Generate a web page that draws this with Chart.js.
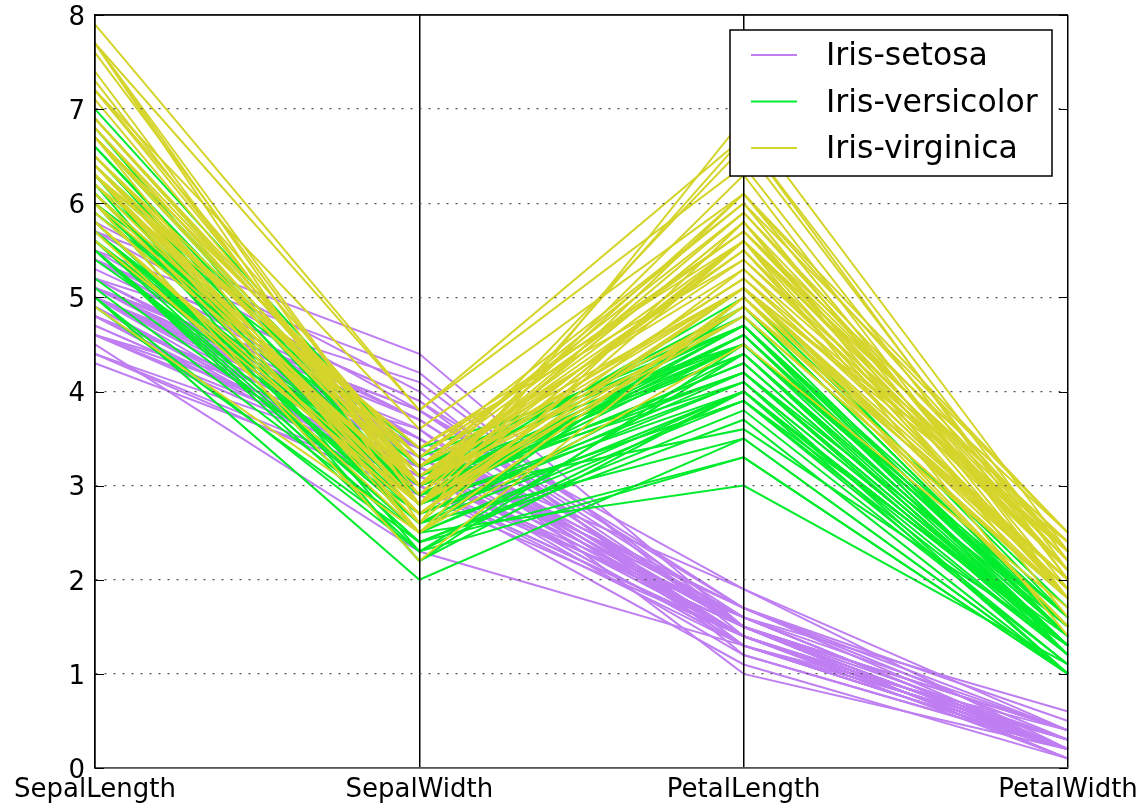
<!DOCTYPE html>
<html>
<head>
<meta charset="utf-8">
<title>Iris parallel coordinates</title>
<script src="https://cdn.jsdelivr.net/npm/chart.js@4.4.1/dist/chart.umd.min.js"></script>
<style>
  html, body { margin: 0; padding: 0; background: #fff; }
  canvas { display: block; }
</style>
</head>
<body>
<canvas id="iris" width="1142" height="803"></canvas>
<script>
// axes of the parallel plot
const features = ['SepalLength', 'SepalWidth', 'PetalLength', 'PetalWidth'];
const species = ['Iris-setosa', 'Iris-versicolor', 'Iris-virginica'];
const speciesColors = ['#bf7ef1', '#00ec2c', '#d4d42a'];
const yTicks = [0, 1, 2, 3, 4, 5, 6, 7, 8];

// one row per flower: SepalLength, SepalWidth, PetalLength, PetalWidth
const setosa = [
  [5.1,3.5,1.4,0.2],[4.9,3.0,1.4,0.2],[4.7,3.2,1.3,0.2],[4.6,3.1,1.5,0.2],[5.0,3.6,1.4,0.2],
  [5.4,3.9,1.7,0.4],[4.6,3.4,1.4,0.3],[5.0,3.4,1.5,0.2],[4.4,2.9,1.4,0.2],[4.9,3.1,1.5,0.1],
  [5.4,3.7,1.5,0.2],[4.8,3.4,1.6,0.2],[4.8,3.0,1.4,0.1],[4.3,3.0,1.1,0.1],[5.8,4.0,1.2,0.2],
  [5.7,4.4,1.5,0.4],[5.4,3.9,1.3,0.4],[5.1,3.5,1.4,0.3],[5.7,3.8,1.7,0.3],[5.1,3.8,1.5,0.3],
  [5.4,3.4,1.7,0.2],[5.1,3.7,1.5,0.4],[4.6,3.6,1.0,0.2],[5.1,3.3,1.7,0.5],[4.8,3.4,1.9,0.2],
  [5.0,3.0,1.6,0.2],[5.0,3.4,1.6,0.4],[5.2,3.5,1.5,0.2],[5.2,3.4,1.4,0.2],[4.7,3.2,1.6,0.2],
  [4.8,3.1,1.6,0.2],[5.4,3.4,1.5,0.4],[5.2,4.1,1.5,0.1],[5.5,4.2,1.4,0.2],[4.9,3.1,1.5,0.1],
  [5.0,3.2,1.2,0.2],[5.5,3.5,1.3,0.2],[4.9,3.1,1.5,0.1],[4.4,3.0,1.3,0.2],[5.1,3.4,1.5,0.2],
  [5.0,3.5,1.3,0.3],[4.5,2.3,1.3,0.3],[4.4,3.2,1.3,0.2],[5.0,3.5,1.6,0.6],[5.1,3.8,1.9,0.4],
  [4.8,3.0,1.4,0.3],[5.1,3.8,1.6,0.2],[4.6,3.2,1.4,0.2],[5.3,3.7,1.5,0.2],[5.0,3.3,1.4,0.2]
];
const versicolor = [
  [7.0,3.2,4.7,1.4],[6.4,3.2,4.5,1.5],[6.9,3.1,4.9,1.5],[5.5,2.3,4.0,1.3],[6.5,2.8,4.6,1.5],
  [5.7,2.8,4.5,1.3],[6.3,3.3,4.7,1.6],[4.9,2.4,3.3,1.0],[6.6,2.9,4.6,1.3],[5.2,2.7,3.9,1.4],
  [5.0,2.0,3.5,1.0],[5.9,3.0,4.2,1.5],[6.0,2.2,4.0,1.0],[6.1,2.9,4.7,1.4],[5.6,2.9,3.6,1.3],
  [6.7,3.1,4.4,1.4],[5.6,3.0,4.5,1.5],[5.8,2.7,4.1,1.0],[6.2,2.2,4.5,1.5],[5.6,2.5,3.9,1.1],
  [5.9,3.2,4.8,1.8],[6.1,2.8,4.0,1.3],[6.3,2.5,4.9,1.5],[6.1,2.8,4.7,1.2],[6.4,2.9,4.3,1.3],
  [6.6,3.0,4.4,1.4],[6.8,2.8,4.8,1.4],[6.7,3.0,5.0,1.7],[6.0,2.9,4.5,1.5],[5.7,2.6,3.5,1.0],
  [5.5,2.4,3.8,1.1],[5.5,2.4,3.7,1.0],[5.8,2.7,3.9,1.2],[6.0,2.7,5.1,1.6],[5.4,3.0,4.5,1.5],
  [6.0,3.4,4.5,1.6],[6.7,3.1,4.7,1.5],[6.3,2.3,4.4,1.3],[5.6,3.0,4.1,1.3],[5.5,2.5,4.0,1.3],
  [5.5,2.6,4.4,1.2],[6.1,3.0,4.6,1.4],[5.8,2.6,4.0,1.2],[5.0,2.3,3.3,1.0],[5.6,2.7,4.2,1.3],
  [5.7,3.0,4.2,1.2],[5.7,2.9,4.2,1.3],[6.2,2.9,4.3,1.3],[5.1,2.5,3.0,1.1],[5.7,2.8,4.1,1.3]
];
const virginica = [
  [6.3,3.3,6.0,2.5],[5.8,2.7,5.1,1.9],[7.1,3.0,5.9,2.1],[6.3,2.9,5.6,1.8],[6.5,3.0,5.8,2.2],
  [7.6,3.0,6.6,2.1],[4.9,2.5,4.5,1.7],[7.3,2.9,6.3,1.8],[6.7,2.5,5.8,1.8],[7.2,3.6,6.1,2.5],
  [6.5,3.2,5.1,2.0],[6.4,2.7,5.3,1.9],[6.8,3.0,5.5,2.1],[5.7,2.5,5.0,2.0],[5.8,2.8,5.1,2.4],
  [6.4,3.2,5.3,2.3],[6.5,3.0,5.5,1.8],[7.7,3.8,6.7,2.2],[7.7,2.6,6.9,2.3],[6.0,2.2,5.0,1.5],
  [6.9,3.2,5.7,2.3],[5.6,2.8,4.9,2.0],[7.7,2.8,6.7,2.0],[6.3,2.7,4.9,1.8],[6.7,3.3,5.7,2.1],
  [7.2,3.2,6.0,1.8],[6.2,2.8,4.8,1.8],[6.1,3.0,4.9,1.8],[6.4,2.8,5.6,2.1],[7.2,3.0,5.8,1.6],
  [7.4,2.8,6.1,1.9],[7.9,3.8,6.4,2.0],[6.4,2.8,5.6,2.2],[6.3,2.8,5.1,1.5],[6.1,2.6,5.6,1.4],
  [7.7,3.0,6.1,2.3],[6.3,3.4,5.6,2.4],[6.4,3.1,5.5,1.8],[6.0,3.0,4.8,1.8],[6.9,3.1,5.4,2.1],
  [6.7,3.1,5.6,2.4],[6.9,3.1,5.1,2.3],[5.8,2.7,5.1,1.9],[6.8,3.2,5.9,2.3],[6.7,3.3,5.7,2.5],
  [6.7,3.0,5.2,2.3],[6.3,2.5,5.0,1.9],[6.5,3.0,5.2,2.0],[6.2,3.4,5.4,2.3],[5.9,3.0,5.1,1.8]
];

const groups = [setosa, versicolor, virginica];

// one line dataset per flower, later rows painted on top
const datasets = [];
let rowIndex = 0;
groups.forEach((rows, g) => {
  rows.forEach(row => {
    datasets.push({
      label: species[g],
      data: row,
      borderColor: speciesColors[g],
      borderWidth: 2,
      pointRadius: 0,
      fill: false,
      tension: 0,
      order: 1000 - rowIndex
    });
    rowIndex++;
  });
});

const FONT = '"DejaVu Sans", "Bitstream Vera Sans", sans-serif';

// top frame line plus inward tick marks on both sides
const frame = {
  id: 'frame',
  afterDraw(chart) {
    const {ctx, chartArea, scales} = chart;
    ctx.save();
    ctx.strokeStyle = '#000';
    ctx.lineWidth = 1.5;
    ctx.beginPath();
    ctx.moveTo(chartArea.left, chartArea.top);
    ctx.lineTo(chartArea.right, chartArea.top);
    ctx.stroke();
    ctx.lineWidth = 1;
    yTicks.forEach(v => {
      const py = Math.round(scales.y.getPixelForValue(v)) + 0.5;
      ctx.beginPath();
      ctx.moveTo(chartArea.left, py);
      ctx.lineTo(chartArea.left + 9, py);
      ctx.moveTo(chartArea.right, py);
      ctx.lineTo(chartArea.right - 9, py);
      ctx.stroke();
    });
    ctx.restore();
  }
};

// boxed legend in the upper right corner of the plot
const legendBox = {
  id: 'legendBox',
  afterDraw(chart) {
    const {ctx, chartArea} = chart;
    const w = 322, h = 146;
    const x = chartArea.right - 16 - w;
    const y = chartArea.top + 15;
    ctx.save();
    ctx.fillStyle = '#fff';
    ctx.fillRect(x, y, w, h);
    ctx.strokeStyle = '#000';
    ctx.lineWidth = 1.5;
    ctx.strokeRect(x, y, w, h);
    ctx.font = '31.5px ' + FONT;
    ctx.textBaseline = 'middle';
    species.forEach((name, i) => {
      const cy = y + 25 + i * 46.5;
      ctx.strokeStyle = speciesColors[i];
      ctx.lineWidth = 2;
      ctx.beginPath();
      ctx.moveTo(x + 21, cy);
      ctx.lineTo(x + 67, cy);
      ctx.stroke();
      ctx.fillStyle = '#000';
      ctx.fillText(name, x + 96, cy + 2);
    });
    ctx.restore();
  }
};

new Chart(document.getElementById('iris'), {
  type: 'line',
  data: { labels: features, datasets: datasets },
  options: {
    responsive: false,
    animation: false,
    events: [],
    layout: { padding: { left: 0, right: 74, top: 15, bottom: 0 } },
    plugins: {
      legend: { display: false },
      tooltip: { enabled: false }
    },
    scales: {
      x: {
        type: 'category',
        offset: false,
        afterFit(scale) {
          scale.paddingLeft = 0;
          scale.paddingRight = 0;
          scale.height = 35;
        },
        grid: { z: 1, color: '#000', lineWidth: 1.5, drawTicks: false, offset: false },
        border: { display: true, color: '#000', width: 1.5, z: 1 },
        ticks: {
          color: '#000',
          padding: 7,
          maxRotation: 0,
          autoSkip: false,
          font: { family: FONT, size: 26 }
        }
      },
      y: {
        min: 0,
        max: 8,
        afterFit(scale) {
          scale.width = 95;
          scale.paddingTop = 0;
          scale.paddingBottom = 0;
        },
        afterBuildTicks(scale) {
          scale.ticks = yTicks.map(v => ({ value: v }));
        },
        grid: { z: 1, color: '#555', lineWidth: 1.3, drawTicks: false },
        border: {
          display: true,
          color: '#000',
          width: 1.5,
          z: 1,
          dash: ctx => (ctx.tick && (ctx.tick.value === 0 || ctx.tick.value === 8)) ? [] : [2, 7]
        },
        ticks: {
          color: '#000',
          padding: 10,
          labelOffset: 3,
          font: { family: FONT, size: 26 }
        }
      }
    }
  },
  plugins: [frame, legendBox]
});
</script>
</body>
</html>
